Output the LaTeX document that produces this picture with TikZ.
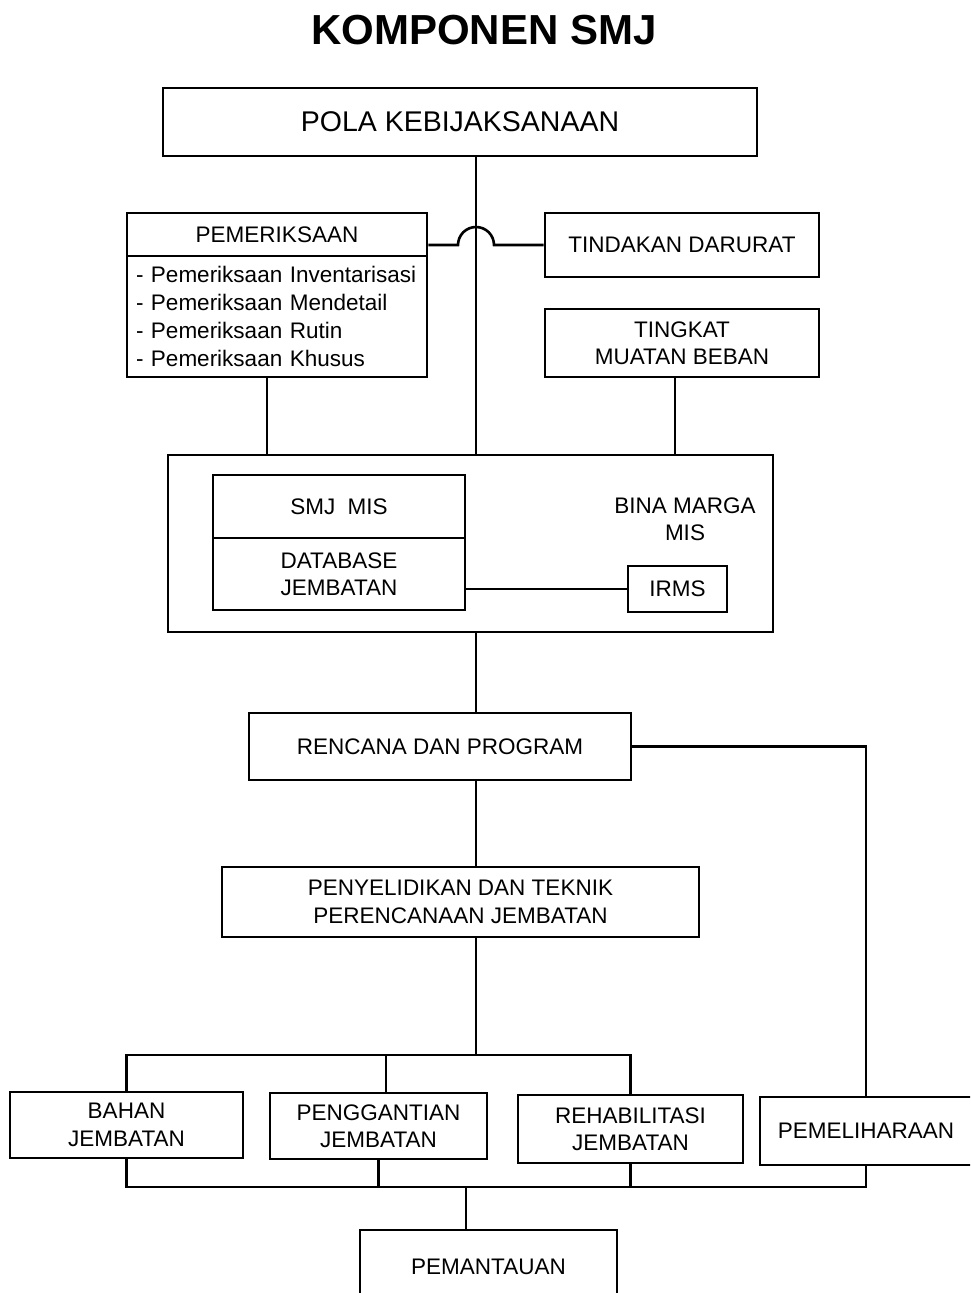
\documentclass[tikz,border=0pt]{standalone}
\usepackage{fontspec}
\setmainfont{Liberation Sans}
\begin{document}
\begin{tikzpicture}[x=1pt,y=-1pt,
  box/.style={draw, line width=2.6pt, inner sep=0pt, align=center, font=\fontsize{22.5}{27.5}\selectfont},
  conn/.style={line width=2.6pt},
  lbl/.style={inner sep=0pt, align=center, font=\fontsize{22.5}{27}\selectfont}]
\useasboundingbox (0,0) rectangle (970,1293);
\clip (0,0) rectangle (970,1293);
\fill[white] (0,0) rectangle (970,1293);
% title
\node[inner sep=0pt, font=\fontsize{42}{42}\selectfont\bfseries] (title) at (484,30) {KOMPONEN SMJ};
% boxes
\node[box, minimum width=594pt, minimum height=68pt, font=\fontsize{28.5}{30}\selectfont] (pola) at (460,122) {POLA KEBIJAKSANAAN};
\node[box, minimum width=300pt, minimum height=43pt] (pemh) at (277,234.5) {PEMERIKSAAN};
\node[box, minimum width=300pt, minimum height=121pt, text width=282pt, inner xsep=9pt, align=left, font=\fontsize{22.5}{27.7}\selectfont] (peml) at (277,316.5) {- Pemeriksaan Inventarisasi\\- Pemeriksaan Mendetail\\- Pemeriksaan Rutin\\- Pemeriksaan Khusus};
\node[box, minimum width=274pt, minimum height=64pt] (tind) at (682,245) {TINDAKAN DARURAT};
\node[box, minimum width=274pt, minimum height=68pt] (ting) at (682,343) {TINGKAT\\MUATAN BEBAN};
\node[box, minimum width=605pt, minimum height=177pt] (big) at (470.5,543.5) {};
\node[box, minimum width=252pt, minimum height=63pt] (smjh) at (339,506.5) {SMJ\ \ MIS};
\node[box, minimum width=252pt, minimum height=72pt] (db) at (339,574) {DATABASE\\JEMBATAN};
\node[lbl] (bina) at (685,519.5) {BINA MARGA\\MIS};
\node[box, minimum width=99pt, minimum height=46pt] (irms) at (677.5,589) {IRMS};
\node[box, minimum width=382pt, minimum height=67pt] (renc) at (440,746.5) {RENCANA DAN PROGRAM};
\node[box, minimum width=477pt, minimum height=70pt] (peny) at (460.5,902) {PENYELIDIKAN DAN TEKNIK\\PERENCANAAN JEMBATAN};
\node[box, minimum width=233pt, minimum height=66pt] (bahan) at (126.5,1125) {BAHAN\\JEMBATAN};
\node[box, minimum width=217pt, minimum height=66pt] (peng) at (378.5,1126) {PENGGANTIAN\\JEMBATAN};
\node[box, minimum width=225pt, minimum height=68pt] (rehab) at (630.5,1129) {REHABILITASI\\JEMBATAN};
\node[box, minimum width=212pt, minimum height=68pt] (pemel) at (866,1131) {PEMELIHARAAN};
\node[box, minimum width=257pt, minimum height=74pt] (pemant) at (488.5,1267) {PEMANTAUAN};
% helper coordinates
\coordinate (mx) at (476,0);
\coordinate (mxl) at (458,0);
\coordinate (px) at (267,0);
\coordinate (tx) at (675,0);
\coordinate (qx) at (466,0);
\coordinate (gx) at (386,0);
\coordinate (b1) at (0,1055);
\coordinate (b2) at (0,1187);
% connectors
\draw[conn] (pola.south -| mx) -- (big.north -| mx);
\draw[conn] (pemh.east |- tind.west) -- (mxl |- tind.west) arc[start angle=180, end angle=0, radius=18pt] -- (tind.west);
\draw[conn] (px |- peml.south) -- (px |- big.north);
\draw[conn] (tx |- ting.south) -- (tx |- big.north);
\draw[conn] (db.east |- irms.west) -- (irms.west);
\draw[conn] (big.south -| mx) -- (renc.north -| mx);
\draw[conn] (renc.east) -| (pemel.north);
\draw[conn] (renc.south -| mx) -- (peny.north -| mx);
\draw[conn] (peny.south -| mx) -- (mx |- b1);
\draw[conn] (bahan.north) |- (b1 -| rehab.north) -- (rehab.north);
\draw[conn] (gx |- peng.north) -- (gx |- b1);
\draw[conn] (bahan.south) |- (b2 -| pemel.south) -- (pemel.south);
\draw[conn] (peng.south) -- (peng.south |- b2);
\draw[conn] (rehab.south) -- (rehab.south |- b2);
\draw[conn] (qx |- b2) -- (qx |- pemant.north);
\end{tikzpicture}
\end{document}
